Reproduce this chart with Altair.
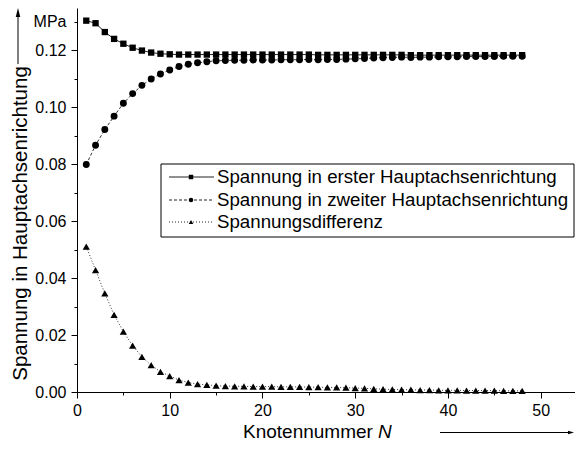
import altair as alt
import pandas as pd

FONT = "Liberation Sans"

# ---------------- data ----------------
N = list(range(1, 49))
s1 = [0.1303, 0.1294, 0.1263, 0.1239, 0.1222, 0.1208, 0.1198, 0.1191, 0.1187, 0.1185,
      0.1184, 0.1184, 0.1184, 0.1184, 0.1184, 0.1184, 0.1184, 0.1184, 0.1184, 0.1184,
      0.1184, 0.1184, 0.1184, 0.1184, 0.1184, 0.1183, 0.1183, 0.1183, 0.1183, 0.1183,
      0.1183, 0.1183, 0.1183, 0.1183, 0.1183, 0.1182, 0.1182, 0.1182, 0.1182, 0.1182,
      0.1182, 0.1182, 0.1182, 0.1182, 0.1182, 0.1182, 0.1182, 0.1182]
s2 = [0.0798, 0.0866, 0.0921, 0.0968, 0.1013, 0.1047, 0.1076, 0.1098, 0.1116, 0.1130,
      0.1142, 0.1150, 0.1155, 0.1159, 0.1162, 0.1163, 0.1164, 0.1164, 0.1165, 0.1165,
      0.1165, 0.1166, 0.1166, 0.1166, 0.1167, 0.1166, 0.1167, 0.1167, 0.1168, 0.1169,
      0.1170, 0.1172, 0.1173, 0.1174, 0.1175, 0.1174, 0.1175, 0.1175, 0.1176, 0.1176,
      0.1176, 0.1177, 0.1177, 0.1177, 0.1177, 0.1178, 0.1178, 0.1178]
diff = [0.0510, 0.0428, 0.0346, 0.0271, 0.0212, 0.0163, 0.0123, 0.0094, 0.0071, 0.0056,
        0.0042, 0.0033, 0.0028, 0.0025, 0.0022, 0.0021, 0.0020, 0.0020, 0.0019, 0.0019,
        0.0019, 0.0018, 0.0018, 0.0018, 0.0017, 0.0017, 0.0016, 0.0016, 0.0015, 0.0014,
        0.0013, 0.0011, 0.0010, 0.0009, 0.0008, 0.0008, 0.0007, 0.0007, 0.0006, 0.0006,
        0.0006, 0.0005, 0.0005, 0.0005, 0.0005, 0.0004, 0.0004, 0.0004]

x_major = [0, 10, 20, 30, 40, 50]
x_minor = [5, 15, 25, 35, 45]
y_major = [0.00, 0.02, 0.04, 0.06, 0.08, 0.10, 0.12]
y_minor = [0.01, 0.03, 0.05, 0.07, 0.09, 0.11, 0.13]

legend_labels = ["Spannung in erster Hauptachsenrichtung",
                 "Spannung in zweiter Hauptachsenrichtung",
                 "Spannungsdifferenz"]
legend_shapes = ["square", "circle", "triangle-up"]
legend_dash = [[1, 0], [3, 2], [1, 2]]

y_title = "Spannung in Hauptachsenrichtung"
x_title = "Knotennummer"
x_title_var = "N"

df = pd.DataFrame({"N": N, "s1": s1, "s2": s2, "d": diff})
one = pd.DataFrame({"a": [0]})

xs = alt.Scale(domain=[0, 53.7], nice=False, zero=False)
ys = alt.Scale(domain=[0, 0.13474], nice=False, zero=False)

common_axis = dict(grid=False, domainColor="black", tickColor="black", labelColor="black",
                   labelFont=FONT, labelFontSize=16, title=None,
                   labelOverlap=False, domainWidth=1, tickWidth=1)

# minor axis layer (invisible)
minor = alt.Chart(df).mark_point(opacity=0).encode(
    x=alt.X("N:Q", scale=xs, axis=alt.Axis(orient="bottom", values=x_minor, tickSize=3,
                                           labels=False, domain=False, **common_axis)),
    y=alt.Y("s1:Q", scale=ys, axis=alt.Axis(orient="left", values=y_minor, tickSize=3, domain=False,
                                            labelPadding=8, labelFlush=False,
                                            labelExpr="datum.value > 0.125 ? 'MPa' : ''",
                                            **common_axis)),
)

line1 = alt.Chart(df).mark_line(color="#222222", strokeWidth=1).encode(
    x=alt.X("N:Q", scale=xs, axis=alt.Axis(orient="bottom", values=x_major, tickSize=6,
                                           labelPadding=4, labelFlush=False, **common_axis)),
    y=alt.Y("s1:Q", scale=ys, axis=alt.Axis(orient="left", values=y_major, tickSize=6,
                                            labelPadding=5, labelFlush=False, format=".2f", **common_axis)),
)
pts1 = alt.Chart(df).mark_point(shape="square", filled=True, size=40, color="black", opacity=1).encode(
    x=alt.X("N:Q", scale=xs, axis=None), y=alt.Y("s1:Q", scale=ys, axis=None))

line2 = alt.Chart(df).mark_line(color="#333333", strokeWidth=1, strokeDash=[3, 2]).encode(
    x=alt.X("N:Q", scale=xs, axis=None), y=alt.Y("s2:Q", scale=ys, axis=None))
pts2 = alt.Chart(df).mark_point(shape="circle", filled=True, size=48, color="black", opacity=1).encode(
    x=alt.X("N:Q", scale=xs, axis=None), y=alt.Y("s2:Q", scale=ys, axis=None))

line3 = alt.Chart(df).mark_line(color="#333333", strokeWidth=1, strokeDash=[1, 2]).encode(
    x=alt.X("N:Q", scale=xs, axis=None), y=alt.Y("d:Q", scale=ys, axis=None))
pts3 = alt.Chart(df).mark_point(shape="triangle-up", filled=True, size=52, color="black", opacity=1).encode(
    x=alt.X("N:Q", scale=xs, axis=None), y=alt.Y("d:Q", scale=ys, axis=None))

# legend (manual)
legend_layers = [
    alt.Chart(one).mark_rect(fill="white", stroke="black", strokeWidth=1).encode(
        x=alt.value(84), x2=alt.value(497), y=alt.value(156), y2=alt.value(229))
]
row_y = [169, 192, 214]
for lab, shp, dash, yy in zip(legend_labels, legend_shapes, legend_dash, row_y):
    legend_layers.append(alt.Chart(one).mark_rule(color="#222222", strokeWidth=1, strokeDash=dash).encode(
        x=alt.value(92), x2=alt.value(137), y=alt.value(yy)))
    legend_layers.append(alt.Chart(one).mark_point(shape=shp, filled=True, size=20, color="black", opacity=1).encode(
        x=alt.value(114), y=alt.value(yy)))
    legend_layers.append(alt.Chart(one).mark_text(align="left", baseline="middle", fontSize=18.7, font=FONT,
                                                  color="black").encode(
        x=alt.value(140), y=alt.value(yy), text=alt.value(lab)))

# axis titles with arrows
ytitle = alt.Chart(one).mark_text(angle=270, align="center", baseline="middle", fontSize=20.5, font=FONT,
                                  color="black").encode(x=alt.value(-56.5), y=alt.value(215.5), text=alt.value(y_title))
yarrow = alt.Chart(one).mark_rule(color="black", strokeWidth=1).encode(
    x=alt.value(-59), y=alt.value(56), y2=alt.value(5))
yhead = alt.Chart(one).mark_point(shape="M0,-1L0.5,1L-0.5,1Z", filled=True, size=81, color="black", opacity=1).encode(
    x=alt.value(-59), y=alt.value(4.5))

TY = 423.5
xt1 = alt.Chart(one).mark_text(align="left", baseline="middle", fontSize=19, font=FONT, color="black").encode(
    x=alt.value(166), y=alt.value(TY), text=alt.value(x_title))
xt2 = alt.Chart(one).mark_text(align="left", baseline="middle", fontSize=19, font=FONT, fontStyle="italic",
                               color="black").encode(x=alt.value(301), y=alt.value(TY), text=alt.value(x_title_var))
xarrow = alt.Chart(one).mark_rule(color="black", strokeWidth=1).encode(
    x=alt.value(363), x2=alt.value(493), y=alt.value(TY + 1))
xhead = alt.Chart(one).mark_point(shape="M1,0L-1,-0.6L-1,0.6Z", filled=True, size=36, color="black", opacity=1).encode(
    x=alt.value(494), y=alt.value(TY + 1))

chart = alt.layer(
    minor, line1, line2, line3, pts1, pts2, pts3, *legend_layers,
    ytitle, yarrow, yhead, xt1, xt2, xarrow, xhead
).resolve_axis(x="independent", y="independent").properties(
    width=498, height=384,
    padding={"left": 69, "top": 0, "right": 0, "bottom": 50},
    autosize=alt.AutoSizeParams(type="none"),
    background="white",
).configure_view(stroke=None)

chart.save("out.html", embed_options={"renderer": "svg", "actions": False})
